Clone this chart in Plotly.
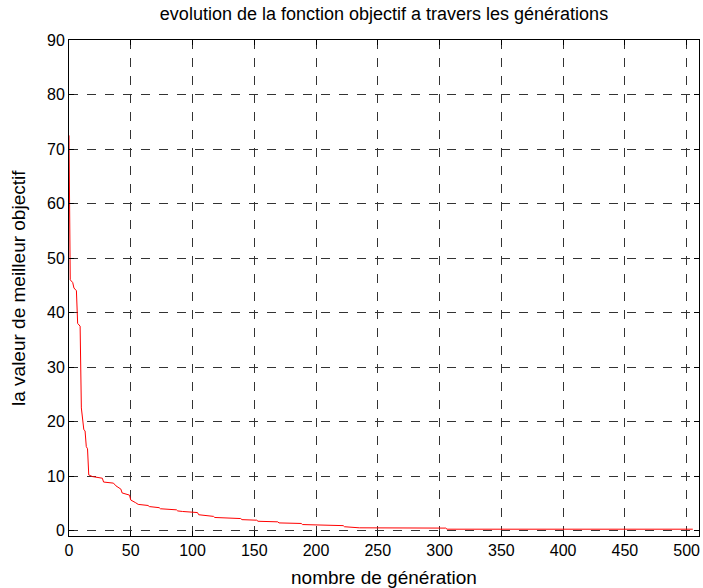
import plotly.graph_objects as go

generations = [0, 1, 3, 4, 6, 7, 9, 10, 12, 13, 14, 15, 16, 19, 27, 28, 36, 38, 42, 43, 49, 50, 54, 56,
               64, 65, 73, 74, 87, 88, 92, 104, 105, 117, 118, 139, 140, 152, 153, 169, 170, 188, 189,
               200, 201, 222, 223, 234, 235, 305, 306, 505]
best_values = [72.5, 46, 45.5, 44.5, 44, 38, 37.5, 22.5, 18.5, 18.3, 15.4, 15, 10.2, 9.9, 9.6, 8.9, 8.7,
               8.2, 7.6, 6.9, 6.5, 5.6, 5.1, 4.8, 4.6, 4.4, 4.2, 4.0, 3.8, 3.6, 3.5, 3.3, 2.9, 2.6, 2.4,
               2.2, 2.0, 1.9, 1.7, 1.6, 1.4, 1.3, 1.1, 1.05, 0.95, 0.9, 0.7, 0.6, 0.5, 0.45, 0.25, 0.25]

x_ticks = [0, 50, 100, 150, 200, 250, 300, 350, 400, 450, 500]
y_ticks = [0, 10, 20, 30, 40, 50, 60, 70, 80, 90]

fig = go.Figure()
fig.add_trace(go.Scatter(x=generations, y=best_values, mode="lines",
                         line=dict(color="#ff0000", width=1), showlegend=False))

font = "Liberation Sans, Arial, sans-serif"
axis_common = dict(showline=True, linecolor="black", linewidth=1, mirror="ticks",
                   ticks="inside", ticklen=5, tickcolor="black",
                   showgrid=True, gridcolor="#333333", gridwidth=1, griddash="dash",
                   zeroline=False, tickfont=dict(family=font, size=16, color="black"))

fig.update_layout(
    width=703, height=588,
    margin=dict(l=69, r=4, t=40, b=52),
    paper_bgcolor="white", plot_bgcolor="white",
    xaxis=dict(range=[0, 510], tickvals=x_ticks, **axis_common),
    yaxis=dict(range=[-1, 90], tickvals=y_ticks, **axis_common),
    title=dict(text="evolution de la fonction objectif a travers les générations",
               x=384 / 703, xanchor="center", y=1 - 14 / 588, yanchor="middle",
               font=dict(family=font, size=18, color="black")),
    annotations=[
        dict(text="nombre de génération", xref="paper", yref="paper",
             x=(384 - 69) / 630, y=-(577 - 536) / 496, xanchor="center", yanchor="middle",
             showarrow=False, font=dict(family=font, size=19, color="black")),
        dict(text="la valeur de meilleur objectif", xref="paper", yref="paper",
             x=-(69 - 18) / 630, y=0.5, xanchor="center", yanchor="middle", textangle=-90,
             showarrow=False, font=dict(family=font, size=19, color="black")),
    ],
)

fig.write_html("out.html")
